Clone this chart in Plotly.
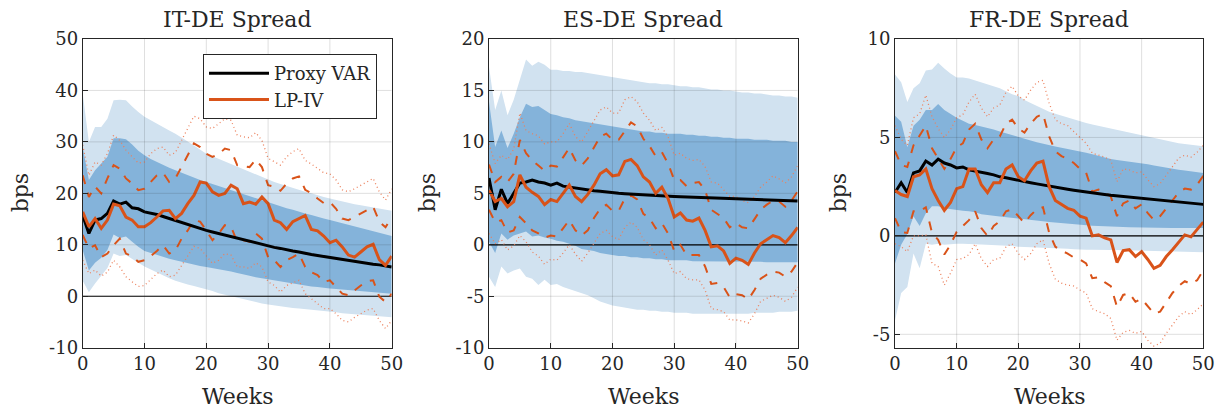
import plotly.graph_objects as go

weeks = list(range(51))

# ---------------- IT-DE spread ----------------
it_var = [15.7, 12.2, 14.8, 15.1, 16.1, 18.5, 17.9, 18.3, 17.2, 17.0, 16.4, 16.2, 15.9, 15.5, 15.1,
          14.7, 14.3, 13.9, 13.5, 13.2, 12.8, 12.5, 12.2, 11.8, 11.5, 11.2, 10.9, 10.6, 10.3, 10.0,
          9.8, 9.5, 9.3, 9.0, 8.8, 8.6, 8.3, 8.1, 7.9, 7.7, 7.5, 7.3, 7.1, 6.9, 6.7, 6.6, 6.4, 6.2,
          6.1, 5.9, 5.7]
it_var_hi68 = [29.0, 22.6, 24.5, 25.8, 27.1, 30.7, 30.7, 30.5, 29.5, 28.3, 27.4, 26.7, 26.1, 25.6, 25.0,
               24.5, 24.0, 23.5, 23.0, 22.6, 22.2, 21.8, 21.4, 21.0, 20.7, 20.3, 19.9, 19.5, 19.1, 18.7,
               18.3, 17.9, 17.5, 17.1, 16.8, 16.4, 16.1, 15.8, 15.4, 15.1, 14.8, 14.5, 14.2, 13.8, 13.5,
               13.2, 12.9, 12.6, 12.3, 12.0, 11.7]
it_var_lo68 = [9.0, 5.0, 6.5, 7.5, 9.0, 12.0, 11.3, 11.6, 10.6, 9.6, 8.8, 8.4, 8.0, 7.6, 7.3,
               7.0, 6.7, 6.5, 6.2, 5.9, 5.7, 5.5, 5.2, 5.0, 4.8, 4.5, 4.3, 4.0, 3.7, 3.5,
               3.2, 3.0, 2.8, 2.6, 2.4, 2.2, 2.1, 1.9, 1.8, 1.6, 1.5, 1.4, 1.3, 1.2, 1.1,
               1.0, 0.9, 0.8, 0.7, 0.6, 0.5]
it_var_hi90 = [39.4, 30.0, 32.9, 32.9, 34.5, 38.1, 38.2, 38.1, 36.9, 35.8, 34.9, 34.2, 33.6, 32.9, 32.2,
               31.6, 30.9, 30.1, 29.3, 28.5, 27.7, 27.2, 26.7, 26.1, 25.6, 25.1, 24.6, 24.1, 23.6, 23.1,
               22.6, 22.2, 21.8, 21.4, 21.0, 20.6, 20.3, 20.0, 19.6, 19.3, 19.0, 18.7, 18.5, 18.2, 17.9,
               17.7, 17.5, 17.2, 17.0, 16.8, 16.6]
it_var_lo90 = [3.0, 0.8, 2.5, 4.0, 5.5, 8.3, 7.8, 8.0, 7.2, 6.5, 5.8, 5.2, 4.7, 4.1, 3.5,
               3.0, 2.6, 2.3, 2.0, 1.7, 1.4, 1.0, 0.6, 0.3, 0.0, -0.3, -0.6, -0.9, -1.1, -1.4,
               -1.6, -1.8, -1.9, -2.1, -2.3, -2.4, -2.5, -2.7, -2.8, -2.9, -3.0, -3.1, -3.3, -3.4, -3.5,
               -3.6, -3.7, -3.8, -3.9, -4.0, -4.1]
it_lp = [16.4, 13.5, 15.1, 13.2, 14.8, 17.9, 17.6, 15.4, 14.8, 13.5, 13.5, 14.3, 15.4, 16.6, 16.7,
         15.1, 16.1, 18.0, 19.6, 22.2, 22.0, 20.3, 19.6, 20.0, 21.6, 20.9, 18.0, 18.3, 17.9, 19.3,
         18.0, 14.8, 14.3, 13.0, 14.5, 15.1, 15.7, 13.0, 12.7, 11.7, 10.4, 10.9, 9.6, 8.0, 7.6,
         8.6, 9.6, 10.1, 7.1, 6.0, 7.8]
it_lp_hi68 = [23.5, 19.3, 21.3, 20.0, 22.9, 25.5, 24.8, 22.9, 21.9, 20.6, 20.9, 22.2, 23.5, 24.0, 22.2,
              22.9, 25.1, 27.4, 29.7, 29.0, 27.7, 27.1, 27.6, 28.7, 28.4, 25.5, 25.3, 25.1, 26.6, 25.1,
              21.6, 21.3, 20.5, 21.9, 22.9, 23.3, 20.7, 20.0, 19.0, 18.1, 18.3, 17.0, 15.1, 14.8, 15.4,
              16.1, 16.7, 17.4, 14.5, 13.4, 15.4]
it_lp_lo68 = [11.9, 9.3, 9.9, 7.6, 8.3, 9.9, 11.2, 8.3, 7.8, 6.7, 7.0, 7.8, 8.8, 9.9, 8.3,
              8.9, 11.2, 12.8, 14.8, 14.5, 12.8, 10.9, 12.2, 13.8, 13.5, 10.6, 10.9, 10.6, 12.2, 11.2,
              7.6, 7.0, 5.7, 7.0, 7.6, 8.3, 5.7, 4.7, 4.1, 2.8, 3.1, 1.8, 0.5, 0.2, 1.2,
              2.1, 2.9, 3.1, -0.1, -1.1, 0.5]
it_lp_hi90 = [29.4, 23.5, 26.1, 25.5, 27.7, 31.3, 30.3, 28.4, 27.1, 25.9, 26.1, 27.7, 28.7, 29.0, 27.4,
              27.9, 30.3, 32.6, 35.0, 34.5, 32.9, 32.6, 33.6, 34.5, 34.2, 31.3, 31.0, 30.8, 31.8, 30.3,
              26.8, 26.1, 25.5, 27.1, 28.1, 28.7, 26.4, 25.7, 24.8, 24.0, 23.8, 22.6, 20.7, 20.3, 20.9,
              21.6, 22.2, 22.9, 20.3, 18.7, 20.9]
it_lp_lo90 = [7.0, 4.4, 5.1, 3.9, 4.7, 7.0, 5.7, 3.8, 2.8, 1.9, 2.1, 3.2, 4.4, 5.1, 3.8,
              4.1, 6.0, 8.0, 9.7, 9.3, 7.8, 6.4, 7.0, 8.3, 8.0, 5.7, 5.7, 5.4, 6.5, 5.7,
              2.8, 2.1, 0.8, 2.1, 2.6, 3.1, 0.5, -0.5, -1.4, -2.4, -2.4, -3.4, -4.7, -5.0, -4.1,
              -3.4, -2.7, -2.4, -4.7, -6.3, -4.7]

# ---------------- ES-DE spread ----------------
es_var = [6.5, 3.4, 5.4, 4.0, 5.0, 6.0, 6.1, 6.3, 6.1, 6.0, 5.8, 6.0, 5.7, 5.6, 5.5,
          5.4, 5.3, 5.25, 5.2, 5.12, 5.05, 5.0, 4.96, 4.92, 4.88, 4.84, 4.81, 4.78, 4.75, 4.72,
          4.7, 4.68, 4.66, 4.64, 4.62, 4.6, 4.58, 4.56, 4.54, 4.52, 4.5, 4.48, 4.46, 4.44, 4.42,
          4.4, 4.37, 4.34, 4.31, 4.28, 4.25]
es_var_hi68 = [13.9, 9.5, 11.1, 9.4, 10.8, 12.4, 13.7, 13.4, 13.5, 13.1, 12.7, 12.6, 12.4, 12.3, 12.1,
               12.0, 11.9, 11.8, 11.7, 11.6, 11.5, 11.4, 11.3, 11.2, 11.1, 11.0, 11.0, 10.9, 10.9, 10.8,
               10.8, 10.8, 10.7, 10.7, 10.6, 10.6, 10.5, 10.5, 10.4, 10.4, 10.3, 10.3, 10.3, 10.2, 10.2,
               10.2, 10.1, 10.1, 10.1, 10.0, 10.0]
es_var_lo68 = [0.3, -0.8, 1.1, 0.5, 0.9, 1.1, 1.3, 0.8, 0.9, 0.7, 0.6, 0.4, 0.3, 0.1, -0.1,
               -0.4, -0.5, -0.6, -0.8, -0.9, -1.0, -1.1, -1.1, -1.2, -1.2, -1.3, -1.3, -1.4, -1.4, -1.5,
               -1.5, -1.5, -1.5, -1.6, -1.6, -1.6, -1.6, -1.6, -1.6, -1.65, -1.65, -1.65, -1.65, -1.65, -1.65,
               -1.7, -1.7, -1.7, -1.7, -1.7, -1.7]
es_var_hi90 = [17.3, 13.1, 15.0, 12.6, 14.1, 16.0, 18.0, 17.4, 17.8, 17.5, 17.0, 17.0, 16.9, 16.9, 16.8,
               16.8, 16.7, 16.6, 16.5, 16.4, 16.3, 16.2, 16.1, 16.0, 15.9, 15.8, 15.7, 15.7, 15.6, 15.6,
               15.5, 15.4, 15.4, 15.3, 15.3, 15.2, 15.1, 15.1, 15.0, 15.0, 14.9, 14.8, 14.8, 14.7, 14.7,
               14.6, 14.5, 14.5, 14.4, 14.4, 14.3]
es_var_lo90 = [-3.1, -4.1, -2.1, -2.8, -2.5, -2.3, -3.1, -3.3, -3.9, -3.4, -3.9, -3.8, -4.1, -4.3, -4.5,
               -4.7, -4.9, -5.2, -5.5, -5.7, -5.9, -6.0, -6.1, -6.2, -6.3, -6.3, -6.4, -6.4, -6.5, -6.5,
               -6.6, -6.6, -6.6, -6.7, -6.7, -6.7, -6.7, -6.7, -6.7, -6.7, -6.7, -6.7, -6.7, -6.6, -6.6,
               -6.6, -6.6, -6.5, -6.5, -6.5, -6.4]
es_lp = [5.3, 4.2, 4.5, 3.7, 4.2, 6.8, 5.6, 5.1, 4.7, 3.9, 4.4, 4.2, 5.0, 5.8, 4.7,
         4.2, 4.9, 5.8, 6.9, 7.3, 6.7, 6.8, 8.1, 8.3, 7.7, 6.6, 6.1, 5.0, 5.6, 4.5,
         2.7, 3.1, 2.4, 2.3, 2.6, 1.4, -0.2, -0.1, -0.6, -1.8, -1.3, -1.5, -1.9, -0.8, 0.1,
         0.5, 0.9, 0.7, 0.2, 0.9, 1.7]
es_lp_hi68 = [7.8, 6.1, 6.6, 6.1, 6.9, 10.2, 8.9, 8.2, 7.7, 7.2, 7.7, 7.6, 8.5, 9.4, 8.2,
              7.7, 8.4, 9.5, 10.5, 10.8, 10.2, 10.2, 11.1, 11.9, 11.5, 10.3, 9.6, 8.6, 9.0, 7.9,
              6.3, 6.3, 5.7, 6.0, 6.1, 5.3, 3.4, 3.0, 2.6, 1.7, 2.1, 1.7, 1.6, 2.5, 3.4,
              3.9, 4.3, 4.2, 3.7, 4.3, 5.2]
es_lp_lo68 = [3.4, 2.2, 2.4, 1.2, 1.4, 2.7, 2.1, 1.4, 1.1, 0.7, 0.9, 0.8, 1.6, 2.4, 1.4,
              0.9, 1.4, 2.6, 3.5, 3.9, 3.3, 3.3, 4.5, 4.8, 4.4, 3.0, 2.6, 1.6, 2.1, 1.1,
              -0.6, 0.0, -1.0, -1.0, -1.0, -2.1, -3.8, -3.7, -4.1, -5.1, -4.8, -4.9, -5.3, -4.4, -3.3,
              -2.9, -2.6, -2.7, -3.1, -2.6, -1.7]
es_lp_hi90 = [9.8, 7.9, 8.7, 8.3, 9.3, 12.8, 11.1, 10.8, 10.6, 9.8, 10.0, 10.0, 10.8, 11.8, 10.5,
              10.0, 11.0, 12.1, 13.1, 13.4, 12.8, 12.8, 14.1, 14.4, 13.9, 12.8, 12.1, 11.1, 11.4, 10.5,
              8.7, 8.9, 8.4, 8.2, 8.3, 7.6, 6.1, 6.0, 5.3, 4.7, 4.7, 4.3, 4.1, 4.7, 5.6,
              6.1, 6.7, 6.4, 6.0, 6.6, 7.7]
es_lp_lo90 = [1.1, 0.1, 0.5, -0.5, -0.1, 0.9, 0.3, -0.7, -1.1, -1.9, -1.4, -1.5, -0.8, 0.0, -0.9,
              -1.6, -0.8, 0.1, 1.1, 1.4, 0.8, 0.5, 1.7, 2.2, 1.7, 0.5, 0.0, -1.0, -0.5, -1.5,
              -2.8, -2.6, -3.3, -3.4, -3.4, -4.4, -6.2, -6.3, -6.5, -7.3, -7.3, -7.4, -7.6, -6.7, -5.5,
              -5.2, -4.9, -5.1, -5.5, -5.1, -4.1]

# ---------------- FR-DE spread ----------------
fr_var = [2.2, 2.7, 2.2, 3.2, 3.3, 3.8, 3.6, 3.9, 3.7, 3.6, 3.45, 3.5, 3.35, 3.3, 3.22,
          3.17, 3.1, 3.0, 2.95, 2.88, 2.82, 2.76, 2.7, 2.64, 2.58, 2.52, 2.47, 2.42, 2.37, 2.32,
          2.27, 2.22, 2.18, 2.14, 2.1, 2.06, 2.03, 2.0, 1.96, 1.93, 1.9, 1.87, 1.84, 1.81, 1.78,
          1.75, 1.72, 1.69, 1.66, 1.63, 1.6]
fr_var_hi68 = [6.1, 5.8, 4.5, 5.6, 5.9, 6.4, 6.4, 6.7, 6.4, 6.2, 6.0, 5.85, 5.7, 5.63, 5.56,
               5.5, 5.4, 5.3, 5.2, 5.1, 5.0, 4.92, 4.84, 4.76, 4.68, 4.6, 4.54, 4.48, 4.42, 4.36,
               4.3, 4.22, 4.14, 4.06, 3.98, 3.9, 3.86, 3.82, 3.78, 3.74, 3.7, 3.64, 3.58, 3.52, 3.46,
               3.4, 3.36, 3.32, 3.28, 3.24, 3.2]
fr_var_lo68 = [-1.4, -0.45, 0.1, 1.0, 0.5, 1.15, 1.5, 1.5, 1.4, 1.35, 1.3, 1.28, 1.25, 1.2, 1.1,
               1.05, 1.02, 0.99, 0.96, 0.93, 0.9, 0.86, 0.82, 0.78, 0.74, 0.7, 0.67, 0.64, 0.61, 0.58,
               0.55, 0.53, 0.52, 0.5, 0.48, 0.47, 0.46, 0.45, 0.44, 0.43, 0.42, 0.42, 0.41, 0.41, 0.41,
               0.4, 0.4, 0.4, 0.4, 0.4, 0.4]
fr_var_hi90 = [8.2, 7.8, 6.8, 7.5, 7.75, 8.4, 8.45, 8.8, 8.5, 8.25, 8.05, 8.05, 8.0, 7.9, 7.8,
               7.7, 7.6, 7.5, 7.35, 7.2, 7.1, 6.9, 6.75, 6.6, 6.45, 6.3, 6.2, 6.1, 6.0, 5.9,
               5.8, 5.73, 5.66, 5.59, 5.52, 5.45, 5.38, 5.31, 5.24, 5.17, 5.1, 5.03, 4.96, 4.89, 4.82,
               4.75, 4.71, 4.67, 4.63, 4.59, 4.55]
fr_var_lo90 = [-4.3, -2.9, -2.6, -0.9, -1.65, -0.4, -0.45, -0.4, -0.45, -0.42, -0.4, -0.4, -0.4, -0.42, -0.44,
               -0.45, -0.46, -0.48, -0.5, -0.52, -0.55, -0.56, -0.57, -0.58, -0.59, -0.6, -0.62, -0.64, -0.66, -0.68,
               -0.7, -0.7, -0.7, -0.7, -0.7, -0.7, -0.71, -0.72, -0.73, -0.74, -0.75, -0.76, -0.77, -0.78, -0.79,
               -0.8, -0.8, -0.81, -0.82, -0.82, -0.83]
fr_lp = [2.3, 2.1, 2.0, 3.0, 3.1, 3.4, 2.4, 1.8, 1.3, 1.7, 2.4, 2.5, 3.4, 3.4, 2.6,
         2.2, 2.7, 2.7, 3.4, 3.6, 3.0, 2.8, 3.3, 3.7, 3.8, 2.5, 1.8, 1.6, 1.4, 1.3,
         1.0, 0.9, 0.0, 0.05, -0.1, -0.2, -1.35, -0.75, -0.7, -1.05, -0.8, -1.2, -1.65, -1.5, -1.05,
         -0.7, -0.3, 0.05, -0.05, 0.3, 0.7]
fr_lp_hi68 = [4.3, 3.6, 3.5, 4.6, 5.1, 5.6, 4.45, 3.9, 3.4, 3.9, 4.5, 4.7, 5.4, 5.7, 4.9,
              4.45, 4.9, 5.05, 5.7, 5.9, 5.45, 5.25, 5.7, 6.05, 6.2, 5.05, 4.3, 4.05, 3.9, 3.7,
              3.4, 3.2, 2.25, 2.35, 2.2, 2.0, 1.0, 1.65, 1.8, 1.4, 1.6, 1.15, 0.8, 1.0, 1.4,
              1.75, 2.2, 2.4, 2.35, 2.6, 3.05]
fr_lp_lo68 = [0.9, 0.2, 0.15, 1.25, 1.25, 1.45, 0.15, -0.2, -0.95, -0.45, 0.2, 0.5, 0.8, 1.25, 0.4,
              0.0, 0.5, 0.75, 1.25, 1.35, 1.0, 0.65, 1.05, 1.35, 1.45, 0.15, -0.55, -0.75, -0.9, -1.1,
              -1.2, -1.4, -2.15, -2.1, -2.35, -2.55, -3.6, -3.0, -2.9, -3.35, -3.2, -3.6, -3.95, -3.85, -3.35,
              -2.9, -2.55, -2.3, -2.45, -2.25, -1.75]
fr_lp_hi90 = [5.6, 4.9, 4.6, 6.0, 6.2, 7.15, 6.05, 5.45, 5.0, 5.4, 6.0, 6.15, 6.8, 7.2, 6.5,
              6.05, 6.5, 6.65, 7.3, 7.6, 7.1, 6.9, 7.4, 7.8, 7.9, 6.75, 5.9, 5.7, 5.6, 5.3,
              5.05, 4.7, 4.2, 4.1, 4.0, 3.85, 2.75, 3.4, 3.35, 3.2, 3.25, 2.85, 2.5, 2.65, 3.1,
              3.5, 3.95, 4.1, 4.0, 4.25, 4.6]
fr_lp_lo90 = [-0.4, -0.55, -0.8, 0.0, 0.0, 0.05, -1.4, -1.55, -2.5, -1.9, -1.2, -1.15, -0.95, -0.4, -1.15,
              -1.55, -1.2, -1.15, -0.55, -0.4, -0.9, -1.2, -0.9, -0.4, -0.2, -1.4, -2.2, -2.4, -2.5, -2.55,
              -2.75, -2.9, -3.7, -3.85, -3.95, -4.2, -5.3, -4.9, -4.8, -4.95, -4.85, -5.3, -5.6, -5.45, -4.95,
              -4.5, -4.1, -3.85, -4.0, -3.75, -3.45]

x_ticks = [0, 10, 20, 30, 40, 50]

panels = [
    dict(title="IT-DE Spread", yrange=[-10, 50], yticks=[-10, 0, 10, 20, 30, 40, 50],
         var=it_var, v68=(it_var_lo68, it_var_hi68), v90=(it_var_lo90, it_var_hi90),
         lp=it_lp, l68=(it_lp_lo68, it_lp_hi68), l90=(it_lp_lo90, it_lp_hi90)),
    dict(title="ES-DE Spread", yrange=[-10, 20], yticks=[-10, -5, 0, 5, 10, 15, 20],
         var=es_var, v68=(es_var_lo68, es_var_hi68), v90=(es_var_lo90, es_var_hi90),
         lp=es_lp, l68=(es_lp_lo68, es_lp_hi68), l90=(es_lp_lo90, es_lp_hi90)),
    dict(title="FR-DE Spread", yrange=[-5.68, 10], yticks=[-5, 0, 5, 10],
         var=fr_var, v68=(fr_var_lo68, fr_var_hi68), v90=(fr_var_lo90, fr_var_hi90),
         lp=fr_lp, l68=(fr_lp_lo68, fr_lp_hi68), l90=(fr_lp_lo90, fr_lp_hi90)),
]

W, H = 1225, 411
x_domains = [[82.7 / W, 391.7 / W], [489.0 / W, 797.7 / W], [895.0 / W, 1203.3 / W]]
y_domain = [(H - 347.7) / H, (H - 39.0) / H]
ylabel_x = [20 / W, 427 / W, 838 / W]

LIGHT = "rgb(209,226,240)"
DARK = "rgb(132,179,218)"
ORANGE = "rgb(217,83,25)"
DOTCOL = "rgb(236,128,92)"
AXCOL = "rgb(38,38,38)"
GRID = "rgba(38,38,38,0.15)"
FONT = "DejaVu Serif, Liberation Serif, serif"

fig = go.Figure()
shapes = []
annotations = []

for i, p in enumerate(panels):
    xa = "x" if i == 0 else f"x{i + 1}"
    ya = "y" if i == 0 else f"y{i + 1}"
    common = dict(x=weeks, xaxis=xa, yaxis=ya, hoverinfo="skip")

    # Proxy VAR bands: 90% (light) and 68% (dark)
    fig.add_trace(go.Scatter(y=p["v90"][1], mode="lines", line=dict(width=0), showlegend=False, **common))
    fig.add_trace(go.Scatter(y=p["v90"][0], mode="lines", line=dict(width=0), fill="tonexty",
                             fillcolor=LIGHT, showlegend=False, **common))
    fig.add_trace(go.Scatter(y=p["v68"][1], mode="lines", line=dict(width=0), showlegend=False, **common))
    fig.add_trace(go.Scatter(y=p["v68"][0], mode="lines", line=dict(width=0), fill="tonexty",
                             fillcolor=DARK, showlegend=False, **common))

    # zero reference line
    fig.add_trace(go.Scatter(x=[0, 50], y=[0, 0], xaxis=xa, yaxis=ya, mode="lines",
                             line=dict(color="black", width=1.2), showlegend=False, hoverinfo="skip"))

    # LP-IV confidence bounds
    for lo_hi, dash, width, col in [(p["l90"], "1px,3px", 1.3, DOTCOL),
                                     (p["l68"], "dash", 2.0, ORANGE)]:
        for series in lo_hi:
            fig.add_trace(go.Scatter(y=series, mode="lines",
                                     line=dict(color=col, width=width, dash=dash),
                                     showlegend=False, **common))

    # point estimates
    fig.add_trace(go.Scatter(y=p["var"], mode="lines", line=dict(color="black", width=3),
                             name="Proxy VAR", showlegend=(i == 0), **common))
    fig.add_trace(go.Scatter(y=p["lp"], mode="lines", line=dict(color=ORANGE, width=3),
                             name="LP-IV", showlegend=(i == 0), **common))

    axis_style = dict(showline=True, mirror=True, linecolor=AXCOL, linewidth=1,
                      ticks="inside", ticklen=5, tickcolor=AXCOL, showgrid=False, zeroline=False,
                      automargin=False,
                      tickfont=dict(family=FONT, size=18, color=AXCOL))
    fig.update_layout(**{
        ("xaxis" if i == 0 else f"xaxis{i + 1}"): dict(
            domain=x_domains[i], range=[0, 50], tickvals=x_ticks,
            ticktext=[str(v) for v in x_ticks], anchor=ya, **axis_style),
        ("yaxis" if i == 0 else f"yaxis{i + 1}"): dict(
            domain=y_domain, range=p["yrange"], tickvals=p["yticks"],
            ticktext=[str(v) for v in p["yticks"]], anchor=xa, **axis_style),
    })

    # grid drawn on top of the bands
    for gx in [10, 20, 30, 40]:
        shapes.append(dict(type="line", xref=xa, yref=ya, x0=gx, x1=gx,
                           y0=p["yrange"][0], y1=p["yrange"][1],
                           line=dict(color=GRID, width=1), layer="above"))
    for gy in p["yticks"]:
        if p["yrange"][0] < gy < p["yrange"][1]:
            shapes.append(dict(type="line", xref=xa, yref=ya, x0=0, x1=50, y0=gy, y1=gy,
                               line=dict(color=GRID, width=1), layer="above"))

    xc = (x_domains[i][0] + x_domains[i][1]) / 2
    annotations.append(dict(text=p["title"], x=xc, y=(H - 19) / H, xref="paper", yref="paper",
                            showarrow=False, xanchor="center", yanchor="middle",
                            font=dict(family=FONT, size=22, color=AXCOL)))
    annotations.append(dict(text="Weeks", x=xc, y=(H - 396) / H, xref="paper", yref="paper",
                            showarrow=False, xanchor="center", yanchor="middle",
                            font=dict(family=FONT, size=22, color=AXCOL)))
    annotations.append(dict(text="bps", x=ylabel_x[i], y=(y_domain[0] + y_domain[1]) / 2,
                            xref="paper", yref="paper", showarrow=False, textangle=-90,
                            xanchor="center", yanchor="middle",
                            font=dict(family=FONT, size=22, color=AXCOL)))

fig.update_layout(
    width=W, height=H,
    margin=dict(l=0, r=0, t=0, b=0, autoexpand=False),
    paper_bgcolor="white", plot_bgcolor="white",
    shapes=shapes, annotations=annotations,
    legend=dict(x=203 / W, y=(H - 54) / H, xanchor="left", yanchor="top",
                bgcolor="white", bordercolor=AXCOL, borderwidth=1,
                font=dict(family=FONT, size=18, color=AXCOL),
                itemwidth=60, tracegroupgap=0, traceorder="normal"),
)

fig.write_html("out.html")
